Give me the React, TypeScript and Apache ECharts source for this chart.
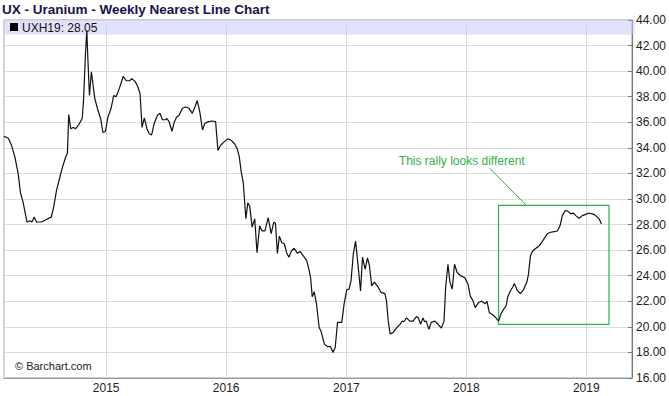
import React, { useEffect, useRef } from "react";
import * as echarts from "echarts";

const TITLE = "UX - Uranium - Weekly Nearest Line Chart";
const SYMBOL = "UXH19";
const LAST = 28.05;
const NOTE = "This rally looks different";
const COPYRIGHT = "\u00a9 Barchart.com";

const dates: string[] = [
  "2014-02-24","2014-03-09","2014-03-19","2014-03-29","2014-04-08","2014-04-15","2014-04-23","2014-05-05","2014-05-14","2014-05-20",
  "2014-05-27","2014-06-03","2014-06-18","2014-07-03","2014-07-18","2014-07-25","2014-08-03","2014-08-13","2014-08-21","2014-08-31",
  "2014-09-05","2014-09-09","2014-09-15","2014-09-22","2014-09-30","2014-10-09","2014-10-20","2014-10-24","2014-10-30","2014-11-03",
  "2014-11-06","2014-11-11","2014-11-17","2014-11-27","2014-12-05","2014-12-15","2014-12-22","2014-12-30","2015-01-06","2015-01-16",
  "2015-01-24","2015-01-31","2015-02-10","2015-02-22","2015-03-03","2015-03-13","2015-03-20","2015-03-30","2015-04-07","2015-04-14",
  "2015-04-20","2015-04-27","2015-05-05","2015-05-12","2015-05-19","2015-05-27","2015-06-06","2015-06-14","2015-06-21","2015-06-30",
  "2015-07-05","2015-07-12","2015-07-20","2015-07-27","2015-08-03","2015-08-11","2015-08-21","2015-08-31","2015-09-10","2015-09-20",
  "2015-09-28","2015-10-05","2015-10-13","2015-10-21","2015-10-28","2015-11-08","2015-11-20","2015-11-30","2015-12-07","2015-12-15",
  "2015-12-25","2016-01-06","2016-01-16","2016-01-27","2016-02-04","2016-02-10","2016-02-16","2016-02-22","2016-02-26","2016-03-01",
  "2016-03-07","2016-03-13","2016-03-20","2016-03-28","2016-04-04","2016-04-12","2016-04-19","2016-04-28","2016-05-08","2016-05-17",
  "2016-05-25","2016-05-30","2016-06-05","2016-06-11","2016-06-18","2016-06-26","2016-07-03","2016-07-10","2016-07-18","2016-07-26",
  "2016-08-05","2016-08-13","2016-08-23","2016-09-02","2016-09-09","2016-09-14","2016-09-19","2016-09-25","2016-10-02","2016-10-10",
  "2016-10-16","2016-10-26","2016-11-05","2016-11-14","2016-11-21","2016-11-28","2016-12-05","2016-12-18","2016-12-25","2017-01-02",
  "2017-01-09","2017-01-15","2017-01-22","2017-01-29","2017-02-06","2017-02-13","2017-02-19","2017-02-27","2017-03-06","2017-03-12",
  "2017-03-19","2017-03-27","2017-04-08","2017-04-16","2017-04-28","2017-05-03","2017-05-08","2017-05-14","2017-05-23","2017-06-02",
  "2017-06-13","2017-06-20","2017-06-25","2017-07-03","2017-07-13","2017-07-23","2017-08-02","2017-08-07","2017-08-15","2017-08-22",
  "2017-08-27","2017-09-01","2017-09-09","2017-09-16","2017-09-27","2017-10-07","2017-10-17","2017-10-25","2017-10-30","2017-11-06",
  "2017-11-12","2017-11-19","2017-11-26","2017-12-04","2017-12-14","2017-12-27","2018-01-06","2018-01-13","2018-01-21","2018-01-28",
  "2018-02-07","2018-02-17","2018-02-27","2018-03-05","2018-03-12","2018-03-22","2018-04-01","2018-04-09","2018-04-16","2018-04-25",
  "2018-05-02","2018-05-07","2018-05-15","2018-05-22","2018-05-27","2018-06-04","2018-06-14","2018-06-24","2018-07-04","2018-07-09",
  "2018-07-15","2018-07-22","2018-08-01","2018-08-11","2018-08-21","2018-08-28","2018-09-05","2018-09-15","2018-09-25","2018-10-05",
  "2018-10-13","2018-10-20","2018-10-29","2018-11-05","2018-11-15","2018-11-23","2018-11-30","2018-12-10","2018-12-20","2018-12-30",
  "2019-01-09","2019-01-16","2019-01-24","2019-02-03","2019-02-10","2019-02-16"
];

const prices: number[] = [
  34.9,34.75,34.2,33.3,32.0,30.5,29.75,28.2,28.3,28.2,
  28.6,28.2,28.2,28.4,28.6,29.35,30.7,31.7,32.5,33.3,
  33.6,36.6,35.5,35.6,35.5,35.8,36.3,37.7,41.4,43.2,
  41.1,38.1,39.95,37.9,37.1,36.3,35.2,35.3,36.4,37.1,
  38.1,38.0,38.65,39.6,39.25,39.25,39.4,39.2,38.8,38.25,
  35.6,36.35,35.5,35.1,35.0,35.9,36.55,36.7,36.2,36.2,
  36.3,36.0,35.3,36.0,36.4,36.55,37.1,37.2,37.1,36.7,
  37.2,37.7,36.8,35.4,35.9,36.05,36.1,36.05,33.8,34.2,
  34.45,34.7,34.6,34.3,33.9,33.3,32.1,31.3,29.9,28.45,
  29.7,29.4,27.8,28.45,25.8,27.9,27.5,27.5,28.55,27.3,
  28.2,28.1,25.75,27.1,26.6,26.5,25.8,25.45,25.95,26.15,
  25.75,25.9,25.55,25.2,24.5,23.85,22.35,22.75,21.8,19.95,
  19.65,18.65,18.45,18.45,18.0,18.4,20.35,20.35,21.8,22.9,
  22.95,23.6,25.7,26.7,24.65,22.8,25.45,24.5,25.4,24.8,
  23.2,23.5,23.1,22.7,22.6,22.05,20.5,19.45,19.55,19.9,
  20.2,20.45,20.4,20.7,20.45,20.45,20.8,20.75,20.2,20.7,
  20.4,20.45,19.8,20.35,20.45,20.2,19.9,20.45,23.1,24.9,
  23.5,22.95,24.9,24.25,24.0,23.85,23.35,22.4,22.05,21.5,
  21.9,22.0,21.8,22.0,21.1,20.95,20.7,20.45,21.0,21.4,
  21.65,22.35,22.8,23.1,23.4,22.9,22.6,22.9,23.5,24.1,
  25.55,25.95,26.15,26.35,26.7,27.0,27.3,27.4,27.45,27.5,
  27.9,28.7,29.1,29.05,28.85,28.9,28.7,28.5,28.7,28.8,
  28.9,28.85,28.8,28.6,28.4,28.05
];

// annotation box (rally) corners and connector, in data units
const boxStart = ["2018-04-09", 20.2];
const boxEnd = ["2019-03-11", 29.5];
const connFrom = ["2018-03-13", 32.4];
const connTo = ["2018-07-03", 29.5];
const noteAt = ["2017-12-18", 32.94];

const X_MIN = "2014-02-24";
const X_MAX = "2019-05-20";
const Y_MIN = 16;
const Y_MAX = 44;
const Y_STEP = 2;

const NARROW = "'Liberation Sans Narrow', 'Arial Narrow', 'Liberation Sans', Arial, sans-serif";
const ARIAL = "'Liberation Sans', Arial, sans-serif";
const GREEN = "#33b04a";

export default function App() {
  const ref = useRef<HTMLDivElement>(null);
  useEffect(() => {
    if (!ref.current) return;
    const chart = echarts.init(ref.current, undefined, { renderer: "svg" });
    const data = dates.map((d, i) => [d, prices[i]]);
    const gridLeft = 4, gridRight = 34, gridTop = 20, gridBottom = 18;
    chart.setOption({
      animation: false,
      backgroundColor: "#fff",
      grid: {
        left: gridLeft, right: gridRight, top: gridTop, bottom: gridBottom,
        show: true, borderColor: "#9a9a9a", borderWidth: 1, containLabel: false,
      },
      xAxis: {
        type: "time",
        min: X_MIN,
        max: X_MAX,
        minInterval: 365 * 24 * 3600 * 1000,
        maxInterval: 366 * 24 * 3600 * 1000,
        axisLine: { show: true, lineStyle: { color: "#9a9a9a" } },
        axisTick: { show: false },
        splitLine: { show: true, lineStyle: { color: "#dcdcdc", width: 1 } },
        axisLabel: {
          color: "#222", fontFamily: NARROW, fontSize: 12, margin: 4,
          formatter: (v: number) => String(new Date(v).getFullYear()),
        },
      },
      yAxis: {
        type: "value",
        position: "right",
        min: Y_MIN, max: Y_MAX, interval: Y_STEP,
        axisLine: { show: true, lineStyle: { color: "#777" } },
        axisTick: { show: true, inside: true, length: 4, lineStyle: { color: "#777" } },
        splitLine: { show: true, lineStyle: { color: "#dcdcdc", width: 1 } },
        axisLabel: {
          color: "#222", fontFamily: NARROW, fontSize: 12, margin: 4,
          formatter: (v: number) => v.toFixed(2),
        },
      },
      series: [
        {
          type: "line",
          data,
          symbol: "none",
          lineStyle: { color: "#111", width: 1.2 },
          z: 5,
          markArea: {
            silent: true,
            itemStyle: { color: "rgba(0,0,0,0)", borderColor: GREEN, borderWidth: 1.2 },
            data: [[{ coord: boxStart }, { coord: boxEnd }]],
          },
          markLine: {
            silent: true,
            symbol: "none",
            animation: false,
            data: [
              [
                { coord: connFrom, lineStyle: { color: GREEN, width: 1, type: "solid" }, label: { show: false } },
                { coord: connTo },
              ],
              {
                yAxis: LAST,
                lineStyle: { opacity: 0 },
                label: {
                  show: true, position: "end", distance: 3,
                  formatter: LAST.toFixed(2),
                  color: "#fff", backgroundColor: "#000",
                  fontFamily: NARROW, fontSize: 12, padding: [1, 2, 0, 2],
                },
              },
            ],
          },
        },
      ],
    });
    const [nx, ny] = chart.convertToPixel({ gridIndex: 0 }, noteAt as any) as number[];
    const plotW = ref.current.clientWidth - gridLeft - gridRight;
    chart.setOption({
      graphic: [
        {
          type: "text", left: 2, top: 2,
          style: { text: TITLE, fontFamily: ARIAL, fontSize: 13.5, fontWeight: "bold", fill: "#15154a" },
        },
        {
          type: "rect", z: 1,
          shape: { x: gridLeft + 0.5, y: gridTop + 0.5, width: plotW - 1, height: 14 },
          style: { fill: "rgba(200,200,245,0.55)" },
        },
        {
          type: "rect", z: 11,
          shape: { x: 10, y: 23, width: 8, height: 8 },
          style: { fill: "#000" },
        },
        {
          type: "text", z: 11, x: 22, y: 27.5,
          style: { text: SYMBOL + ": " + LAST.toFixed(2), fontFamily: NARROW, fontSize: 12, fill: "#111", verticalAlign: "middle" },
        },
        {
          type: "text", z: 11, x: nx, y: ny,
          style: { text: NOTE, fontFamily: ARIAL, fontSize: 12, fill: GREEN, align: "center", verticalAlign: "middle" },
        },
        {
          type: "text", z: 11, x: 15, y: 366,
          style: { text: COPYRIGHT, fontFamily: ARIAL, fontSize: 11, fill: "#222", verticalAlign: "middle" },
        },
      ],
    });
    return () => chart.dispose();
  }, []);
  return <div ref={ref} style={{ width: 669, height: 396, position: "absolute", left: 0, top: 0 }} />;
}
